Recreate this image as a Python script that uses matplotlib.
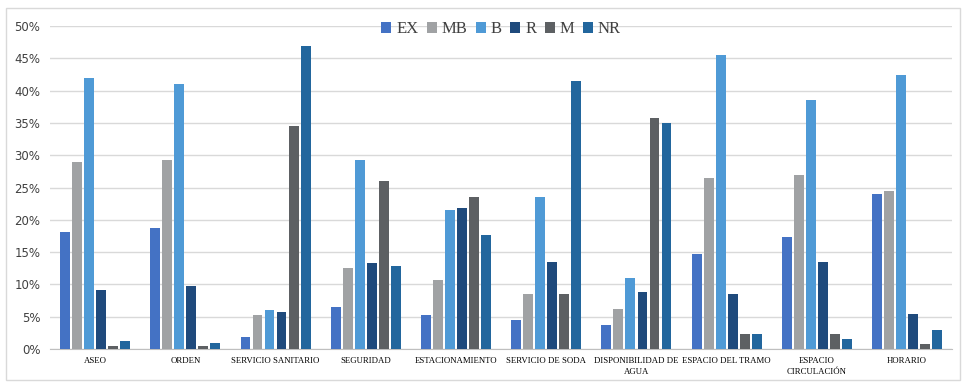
import numpy as np
import matplotlib
matplotlib.use("Agg")
import matplotlib.pyplot as plt
from matplotlib.patches import Rectangle
from matplotlib.ticker import PercentFormatter

categorias = ["ASEO", "ORDEN", "SERVICIO SANITARIO", "SEGURIDAD", "ESTACIONAMIENTO",
              "SERVICIO DE SODA", "DISPONIBILIDAD DE\nAGUA", "ESPACIO DEL TRAMO",
              "ESPACIO\nCIRCULACIÓN", "HORARIO"]
series = ["EX", "MB", "B", "R", "M", "NR"]

EX = [18.2, 18.8, 1.8, 6.5, 5.2, 4.5, 3.7, 14.7, 17.3, 24.0]
MB = [29.0, 29.2, 5.3, 12.5, 10.7, 8.5, 6.2, 26.5, 27.0, 24.5]
B = [42.0, 41.0, 6.0, 29.3, 21.5, 23.6, 11.0, 45.5, 38.5, 42.4]
R = [9.2, 9.7, 5.8, 13.3, 21.8, 13.5, 8.8, 8.5, 13.5, 5.5]
M = [0.5, 0.5, 34.5, 26.0, 23.5, 8.5, 35.7, 2.3, 2.3, 0.8]
NR = [1.3, 1.0, 46.9, 12.8, 17.6, 41.5, 35.0, 2.3, 1.5, 3.0]

valores = [EX, MB, B, R, M, NR]
colores = ["#4472c4", "#a0a2a4", "#4f9ad6", "#1f4a7c", "#5d6063", "#22669d"]

fig = plt.figure(figsize=(9.67, 3.9), dpi=100)
fig.patches.append(Rectangle((0.006, 0.025), 0.987, 0.955, transform=fig.transFigure,
                             fill=False, edgecolor="#d9d9d9", linewidth=1.0))
ax = fig.add_axes([0.0517, 0.105, 0.933, 0.828])

x = np.arange(len(categorias))
n = len(series)
ancho = 0.8 / n
for i, (nombre, vals, c) in enumerate(zip(series, valores, colores)):
    pos = x - 0.4 + ancho * (i + 0.5)
    ax.bar(pos, np.array(vals) / 100, width=ancho * 0.82, color=c, label=nombre, zorder=3)

ax.set_xlim(-0.5, len(categorias) - 0.5)
ax.set_ylim(0, 0.5)
ax.set_yticks(np.arange(0, 0.51, 0.05))
ax.yaxis.set_major_formatter(PercentFormatter(1.0, decimals=0))
ax.grid(axis="y", color="#d9d9d9", linewidth=1.0, zorder=0)
ax.set_xticks(x)
ax.set_xticklabels(categorias, fontsize=6.3, family="Liberation Serif", linespacing=1.4)
for lab in ax.get_yticklabels():
    lab.set_fontsize(8.5)
    lab.set_color("#404040")
ax.tick_params(axis="both", length=0, pad=7)
ax.tick_params(axis="x", pad=6)
for s in ["top", "right", "left"]:
    ax.spines[s].set_visible(False)
ax.spines["bottom"].set_color("#bfbfbf")

ax.legend(loc="center", bbox_to_anchor=(0.5, 0.99), ncol=6, frameon=False,
          prop={"family": "Liberation Serif", "size": 12}, handlelength=0.6,
          handleheight=0.6, handletextpad=0.3, columnspacing=0.5, labelcolor="#404040")

fig.savefig("out.png", dpi=100)
